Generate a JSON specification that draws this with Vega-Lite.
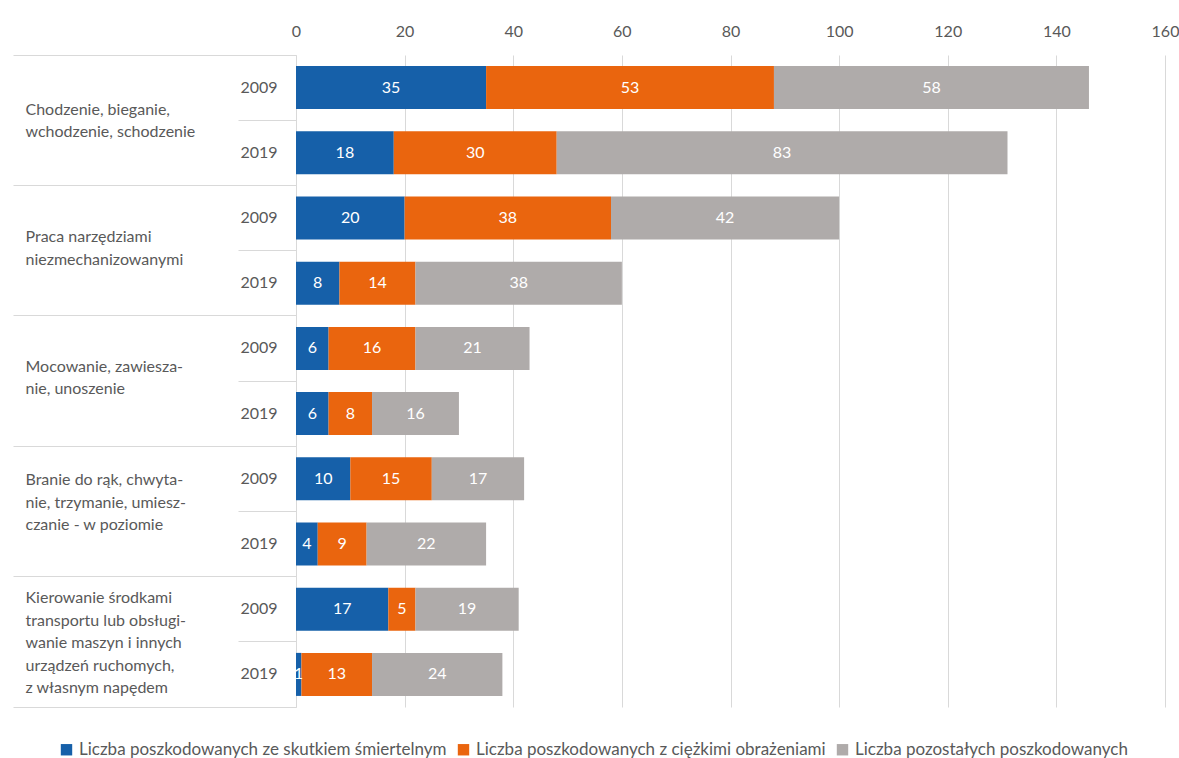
{
  "$schema": "https://vega.github.io/schema/vega-lite/v6.json",
  "autosize": {"type": "none"},
  "padding": {"left": 296, "top": 55, "right": 14, "bottom": 51},
  "width": 869,
  "height": 652,
  "background": "white",
  "config": {
    "font": "Lato",
    "view": {"stroke": null},
    "axis": {"labelColor": "#595959", "labelFontSize": 16, "title": null}
  },
  "data": {
    "values": [
      {"key": "Chodzenie, bieganie,|wchodzenie, schodzenie#2009", "series": "Liczba poszkodowanych ze skutkiem śmiertelnym", "o": 1, "value": 35},
      {"key": "Chodzenie, bieganie,|wchodzenie, schodzenie#2009", "series": "Liczba poszkodowanych z ciężkimi obrażeniami", "o": 2, "value": 53},
      {"key": "Chodzenie, bieganie,|wchodzenie, schodzenie#2009", "series": "Liczba pozostałych poszkodowanych", "o": 3, "value": 58},
      {"key": "Chodzenie, bieganie,|wchodzenie, schodzenie#2019", "series": "Liczba poszkodowanych ze skutkiem śmiertelnym", "o": 1, "value": 18},
      {"key": "Chodzenie, bieganie,|wchodzenie, schodzenie#2019", "series": "Liczba poszkodowanych z ciężkimi obrażeniami", "o": 2, "value": 30},
      {"key": "Chodzenie, bieganie,|wchodzenie, schodzenie#2019", "series": "Liczba pozostałych poszkodowanych", "o": 3, "value": 83},
      {"key": "Praca narzędziami|niezmechanizowanymi#2009", "series": "Liczba poszkodowanych ze skutkiem śmiertelnym", "o": 1, "value": 20},
      {"key": "Praca narzędziami|niezmechanizowanymi#2009", "series": "Liczba poszkodowanych z ciężkimi obrażeniami", "o": 2, "value": 38},
      {"key": "Praca narzędziami|niezmechanizowanymi#2009", "series": "Liczba pozostałych poszkodowanych", "o": 3, "value": 42},
      {"key": "Praca narzędziami|niezmechanizowanymi#2019", "series": "Liczba poszkodowanych ze skutkiem śmiertelnym", "o": 1, "value": 8},
      {"key": "Praca narzędziami|niezmechanizowanymi#2019", "series": "Liczba poszkodowanych z ciężkimi obrażeniami", "o": 2, "value": 14},
      {"key": "Praca narzędziami|niezmechanizowanymi#2019", "series": "Liczba pozostałych poszkodowanych", "o": 3, "value": 38},
      {"key": "Mocowanie, zawiesza-|nie, unoszenie#2009", "series": "Liczba poszkodowanych ze skutkiem śmiertelnym", "o": 1, "value": 6},
      {"key": "Mocowanie, zawiesza-|nie, unoszenie#2009", "series": "Liczba poszkodowanych z ciężkimi obrażeniami", "o": 2, "value": 16},
      {"key": "Mocowanie, zawiesza-|nie, unoszenie#2009", "series": "Liczba pozostałych poszkodowanych", "o": 3, "value": 21},
      {"key": "Mocowanie, zawiesza-|nie, unoszenie#2019", "series": "Liczba poszkodowanych ze skutkiem śmiertelnym", "o": 1, "value": 6},
      {"key": "Mocowanie, zawiesza-|nie, unoszenie#2019", "series": "Liczba poszkodowanych z ciężkimi obrażeniami", "o": 2, "value": 8},
      {"key": "Mocowanie, zawiesza-|nie, unoszenie#2019", "series": "Liczba pozostałych poszkodowanych", "o": 3, "value": 16},
      {"key": "Branie do rąk, chwyta-|nie, trzymanie, umiesz-|czanie - w poziomie#2009", "series": "Liczba poszkodowanych ze skutkiem śmiertelnym", "o": 1, "value": 10},
      {"key": "Branie do rąk, chwyta-|nie, trzymanie, umiesz-|czanie - w poziomie#2009", "series": "Liczba poszkodowanych z ciężkimi obrażeniami", "o": 2, "value": 15},
      {"key": "Branie do rąk, chwyta-|nie, trzymanie, umiesz-|czanie - w poziomie#2009", "series": "Liczba pozostałych poszkodowanych", "o": 3, "value": 17},
      {"key": "Branie do rąk, chwyta-|nie, trzymanie, umiesz-|czanie - w poziomie#2019", "series": "Liczba poszkodowanych ze skutkiem śmiertelnym", "o": 1, "value": 4},
      {"key": "Branie do rąk, chwyta-|nie, trzymanie, umiesz-|czanie - w poziomie#2019", "series": "Liczba poszkodowanych z ciężkimi obrażeniami", "o": 2, "value": 9},
      {"key": "Branie do rąk, chwyta-|nie, trzymanie, umiesz-|czanie - w poziomie#2019", "series": "Liczba pozostałych poszkodowanych", "o": 3, "value": 22},
      {"key": "Kierowanie środkami|transportu lub obsługi-|wanie maszyn i innych|urządzeń ruchomych,|z własnym napędem#2009", "series": "Liczba poszkodowanych ze skutkiem śmiertelnym", "o": 1, "value": 17},
      {"key": "Kierowanie środkami|transportu lub obsługi-|wanie maszyn i innych|urządzeń ruchomych,|z własnym napędem#2009", "series": "Liczba poszkodowanych z ciężkimi obrażeniami", "o": 2, "value": 5},
      {"key": "Kierowanie środkami|transportu lub obsługi-|wanie maszyn i innych|urządzeń ruchomych,|z własnym napędem#2009", "series": "Liczba pozostałych poszkodowanych", "o": 3, "value": 19},
      {"key": "Kierowanie środkami|transportu lub obsługi-|wanie maszyn i innych|urządzeń ruchomych,|z własnym napędem#2019", "series": "Liczba poszkodowanych ze skutkiem śmiertelnym", "o": 1, "value": 1},
      {"key": "Kierowanie środkami|transportu lub obsługi-|wanie maszyn i innych|urządzeń ruchomych,|z własnym napędem#2019", "series": "Liczba poszkodowanych z ciężkimi obrażeniami", "o": 2, "value": 13},
      {"key": "Kierowanie środkami|transportu lub obsługi-|wanie maszyn i innych|urządzeń ruchomych,|z własnym napędem#2019", "series": "Liczba pozostałych poszkodowanych", "o": 3, "value": 24}
    ]
  },
  "resolve": {"axis": {"y": "independent"}},
  "layer": [
    {
      "mark": {"type": "bar", "height": {"band": 0.66}},
      "encoding": {
        "y": {
          "field": "key", "type": "nominal", "sort": null,
          "scale": {"paddingInner": 0, "paddingOuter": 0},
          "axis": {
            "orient": "left",
            "labelExpr": "split(datum.value, '#')[1]",
            "ticks": false,
            "domain": true,
            "domainColor": "#D9D9D9",
            "labelPadding": 19,
            "grid": false
          }
        },
        "x": {
          "field": "value", "type": "quantitative", "stack": "zero",
          "scale": {"domain": [0, 160], "nice": false},
          "axis": {
            "orient": "top",
            "values": [0, 20, 40, 60, 80, 100, 120, 140, 160],
            "domain": false,
            "ticks": false,
            "grid": true,
            "gridColor": "#D9D9D9",
            "labelFlush": false,
            "labelPadding": 16
          }
        },
        "color": {
          "field": "series", "type": "nominal",
          "scale": {
            "domain": ["Liczba poszkodowanych ze skutkiem śmiertelnym", "Liczba poszkodowanych z ciężkimi obrażeniami", "Liczba pozostałych poszkodowanych"],
            "range": ["#1660A9", "#EA650E", "#AFABAA"]
          },
          "legend": {
            "orient": "none",
            "legendX": -238,
            "legendY": 686,
            "direction": "horizontal",
            "title": null,
            "symbolType": "square",
            "symbolSize": 130,
            "symbolStrokeWidth": 0,
            "labelFontSize": 17,
            "labelColor": "#595959",
            "labelLimit": 500,
            "columnPadding": 8,
            "labelOffset": 4
          }
        },
        "order": {"field": "o", "type": "quantitative"}
      }
    },
    {
      "mark": {"type": "text", "color": "white", "fontSize": 16, "baseline": "middle", "align": "center"},
      "encoding": {
        "y": {
          "field": "key", "type": "nominal", "sort": null,
          "axis": {
            "orient": "left",
            "values": [
              "Chodzenie, bieganie,|wchodzenie, schodzenie#2019",
              "Praca narzędziami|niezmechanizowanymi#2019",
              "Mocowanie, zawiesza-|nie, unoszenie#2019",
              "Branie do rąk, chwyta-|nie, trzymanie, umiesz-|czanie - w poziomie#2019",
              "Kierowanie środkami|transportu lub obsługi-|wanie maszyn i innych|urządzeń ruchomych,|z własnym napędem#2019"
            ],
            "bandPosition": 0,
            "ticks": true,
            "tickSize": 58,
            "tickColor": "#D9D9D9",
            "labels": false,
            "domain": false,
            "grid": false
          }
        },
        "x": {"field": "value", "type": "quantitative", "stack": "zero", "bandPosition": 0.5},
        "detail": {"field": "series"},
        "order": {"field": "o", "type": "quantitative"},
        "text": {"field": "value", "type": "quantitative"}
      }
    },
    {
      "mark": {"type": "point", "opacity": 0},
      "encoding": {
        "y": {
          "field": "key", "type": "nominal", "sort": null,
          "axis": {
            "orient": "left",
            "values": [
              "Chodzenie, bieganie,|wchodzenie, schodzenie#2019",
              "Praca narzędziami|niezmechanizowanymi#2019",
              "Mocowanie, zawiesza-|nie, unoszenie#2019",
              "Branie do rąk, chwyta-|nie, trzymanie, umiesz-|czanie - w poziomie#2019",
              "Kierowanie środkami|transportu lub obsługi-|wanie maszyn i innych|urządzeń ruchomych,|z własnym napędem#2019"
            ],
            "bandPosition": 1,
            "ticks": true,
            "tickSize": 283,
            "tickColor": "#D9D9D9",
            "labelExpr": "split(split(datum.value, '#')[0], '|')",
            "labelAlign": "left",
            "labelBaseline": "middle",
            "labelPadding": -12,
            "labelOffset": {
              "condition": [
                {"test": "indexof(datum.value, 'Chodzenie') == 0", "value": -43},
                {"test": "indexof(datum.value, 'Praca') == 0", "value": -46},
                {"test": "indexof(datum.value, 'Mocowanie') == 0", "value": -47},
                {"test": "indexof(datum.value, 'Branie') == 0", "value": -64}
              ],
              "value": -76
            },
            "labelLineHeight": 22.5,
            "labelLimit": 400,
            "labelOverlap": false,
            "labelFontSize": 16,
            "domain": false,
            "grid": false
          }
        },
        "x": {"field": "value", "type": "quantitative"}
      }
    },
    {
      "mark": {"type": "point", "opacity": 0},
      "encoding": {
        "y": {
          "field": "key", "type": "nominal", "sort": null,
          "axis": {
            "orient": "left",
            "values": ["Chodzenie, bieganie,|wchodzenie, schodzenie#2009"],
            "bandPosition": 0,
            "ticks": true,
            "tickSize": 283,
            "tickColor": "#D9D9D9",
            "labels": false,
            "domain": false,
            "grid": false
          }
        },
        "x": {"field": "value", "type": "quantitative"}
      }
    }
  ]
}
